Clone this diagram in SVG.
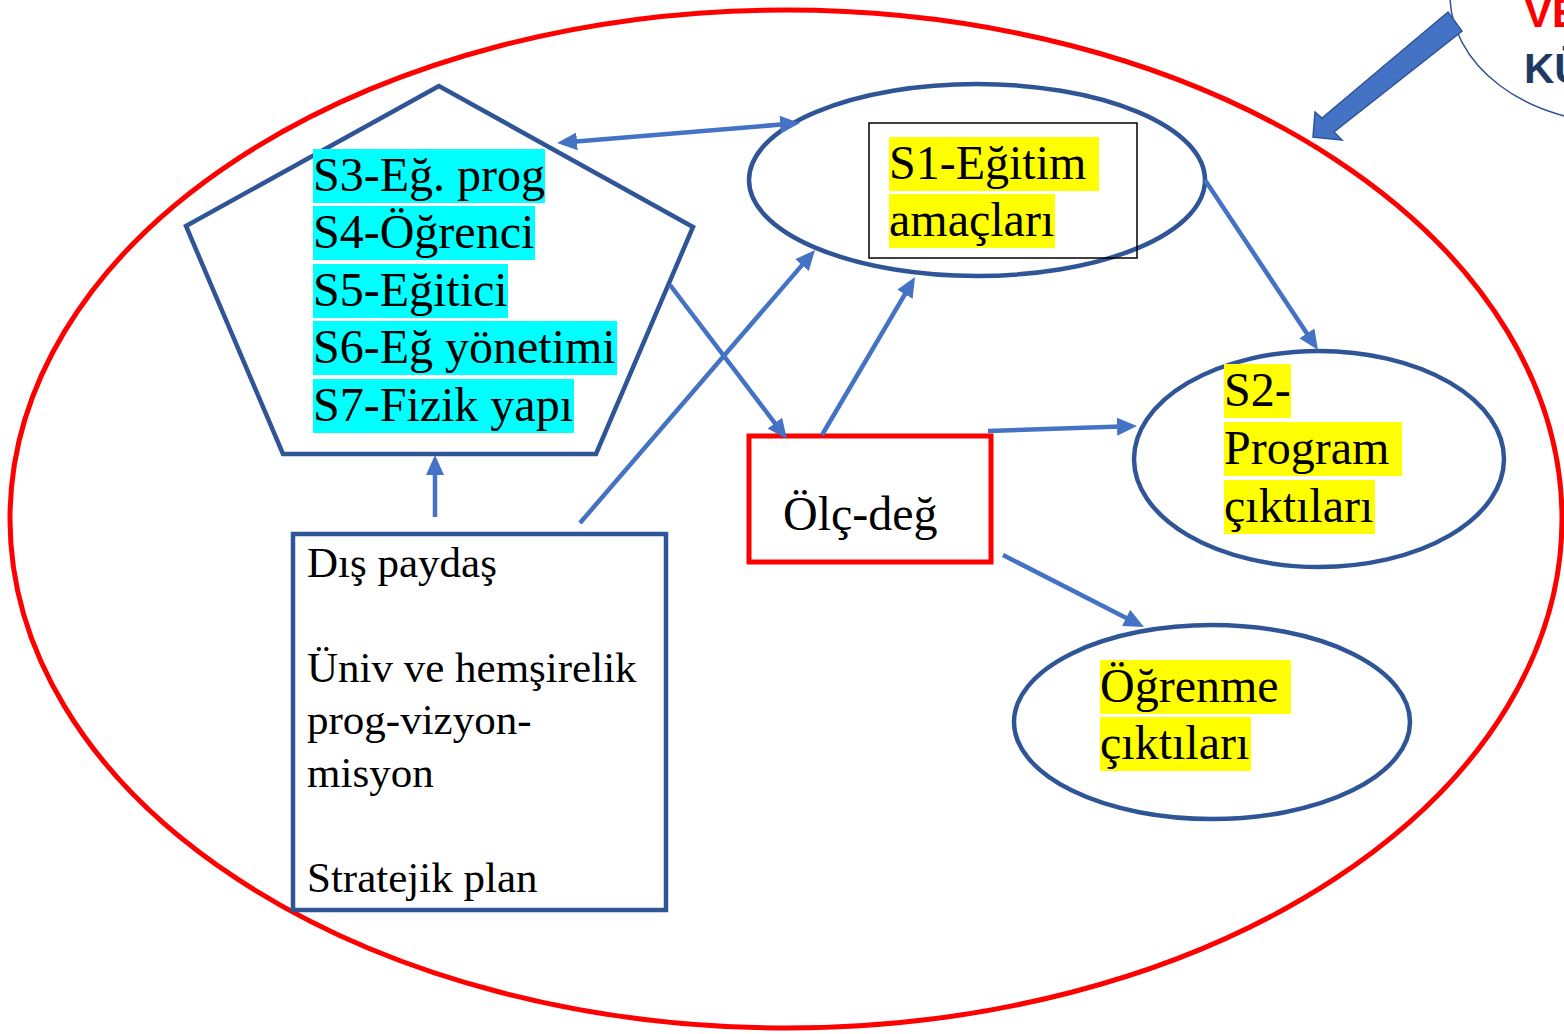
<svg xmlns="http://www.w3.org/2000/svg" width="1564" height="1034" viewBox="0 0 1564 1034">
<style>
.t{font-family:"Liberation Serif","Times New Roman",serif;font-size:48px;fill:#000}
.s{font-family:"Liberation Serif","Times New Roman",serif;font-size:43px;fill:#000}
.node{fill:#fff;stroke:#2F5597;stroke-width:4.5}
.red{fill:#fff;stroke:#FF0000;stroke-width:5}
.cy{fill:#00FFFF}
.ye{fill:#FFFF00}
.conn line{stroke:#4472C4;stroke-width:4.5;fill:none}
</style>
<defs>
<marker id="ah" viewBox="0 0 20 18" markerUnits="userSpaceOnUse" markerWidth="20" markerHeight="18" refX="4" refY="9" orient="auto-start-reverse">
<path d="M0,0 L20,9 L0,18 z" fill="#4472C4"/>
</marker>
</defs>
<rect width="1564" height="1034" fill="#fff"/>

<g id="outer">
<ellipse cx="786" cy="519" rx="776" ry="509" fill="none" stroke="#FF0000" stroke-width="5"/>
</g>

<g id="corner">
<ellipse cx="1620" cy="-5" rx="170" ry="128" fill="#fff" stroke="#2F5597" stroke-width="1.5"/>
<text x="1524" y="27" font-family="'Liberation Sans',Arial,sans-serif" font-weight="bold" font-size="42" fill="#FF0000">VE</text>
<text x="1524" y="83" font-family="'Liberation Sans',Arial,sans-serif" font-weight="bold" font-size="42" fill="#1F3864">KÜ</text>
<polygon points="1448,12 1462,31 1334,132 1342,140 1313,137 1315,112 1322,118" fill="#4472C4" stroke="#2F5597" stroke-width="1.5"/>
</g>

<g id="pentagon">
<polygon class="node" points="439,86 186,226 283,454 596,454 693,227"/>
<rect class="cy" x="313" y="149" width="232" height="54"/>
<rect class="cy" x="313" y="206" width="222" height="54"/>
<rect class="cy" x="313" y="264" width="195" height="54"/>
<rect class="cy" x="313" y="321" width="304" height="54"/>
<rect class="cy" x="313" y="379" width="261" height="54"/>
<text class="t" x="313" y="191">S3-Eğ. prog</text>
<text class="t" x="313" y="248">S4-Öğrenci</text>
<text class="t" x="313" y="306">S5-Eğitici</text>
<text class="t" x="313" y="363">S6-Eğ yönetimi</text>
<text class="t" x="313" y="421">S7-Fizik yapı</text>
</g>

<g id="s1">
<ellipse class="node" cx="977" cy="180" rx="228" ry="96"/>
<rect x="869" y="123" width="268" height="135" fill="none" stroke="#000" stroke-width="1.5"/>
<rect class="ye" x="889" y="137" width="210" height="54"/>
<rect class="ye" x="889" y="194" width="166" height="54"/>
<text class="t" x="889" y="179">S1-Eğitim</text>
<text class="t" x="889" y="236">amaçları</text>
</g>

<g id="s2">
<ellipse class="node" cx="1319" cy="459" rx="185" ry="108"/>
<rect class="ye" x="1224" y="364" width="67" height="54"/>
<rect class="ye" x="1224" y="422" width="178" height="54"/>
<rect class="ye" x="1224" y="480" width="151" height="54"/>
<text class="t" x="1224" y="406">S2-</text>
<text class="t" x="1224" y="464">Program</text>
<text class="t" x="1224" y="522">çıktıları</text>
</g>

<g id="ogrenme">
<ellipse class="node" cx="1212" cy="722" rx="198" ry="97"/>
<rect class="ye" x="1100" y="660" width="191" height="54"/>
<rect class="ye" x="1100" y="717" width="151" height="54"/>
<text class="t" x="1100" y="702">Öğrenme</text>
<text class="t" x="1100" y="759">çıktıları</text>
</g>

<g id="olcdeg">
<rect class="red" x="749" y="436" width="242" height="126"/>
<text class="t" x="783" y="530">Ölç-değ</text>
</g>

<g id="dispaydas">
<rect class="node" x="293" y="534" width="373" height="376"/>
<text class="s" x="307" y="577">Dış paydaş</text>
<text class="s" x="307" y="682">Üniv ve hemşirelik</text>
<text class="s" x="307" y="734">prog-vizyon-</text>
<text class="s" x="307" y="787">misyon</text>
<text class="s" x="307" y="892">Stratejik plan</text>
</g>

<g id="connectors" class="conn">
<line x1="573" y1="141.7" x2="784.1" y2="124.3" marker-start="url(#ah)" marker-end="url(#ah)"/>
<line x1="670" y1="285" x2="777.3" y2="426.3" marker-end="url(#ah)"/>
<line x1="580" y1="523" x2="804.6" y2="262.1" marker-end="url(#ah)"/>
<line x1="822" y1="435" x2="906.9" y2="290.8" marker-end="url(#ah)"/>
<line x1="1205" y1="180" x2="1309.1" y2="336.7" marker-end="url(#ah)"/>
<line x1="988" y1="431" x2="1121" y2="426.5" marker-end="url(#ah)"/>
<line x1="1003" y1="555" x2="1129.7" y2="619.7" marker-end="url(#ah)"/>
<line x1="435" y1="517" x2="435" y2="471" marker-end="url(#ah)"/>
</g>
</svg>
